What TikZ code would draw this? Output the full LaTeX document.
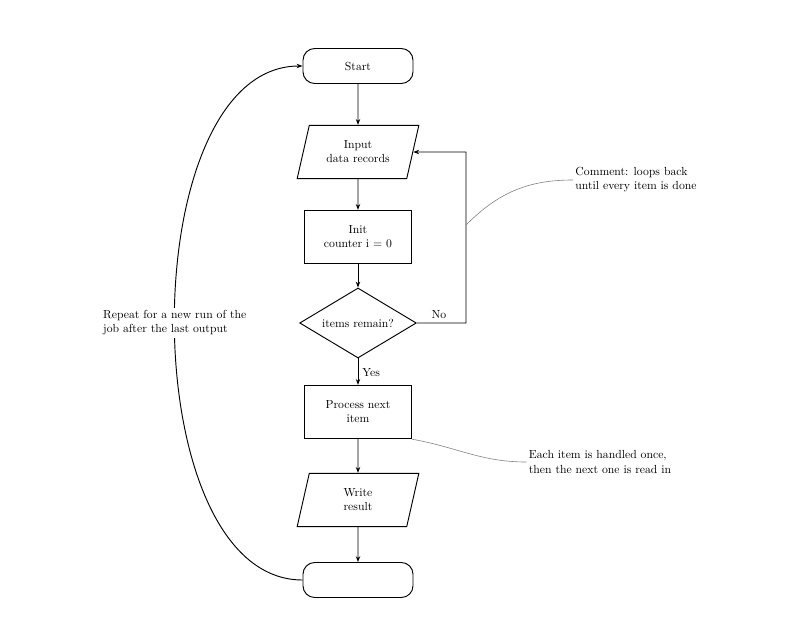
\documentclass[tikz,border=0pt]{standalone}
\usetikzlibrary{shapes.geometric,arrows.meta,positioning}
\begin{document}
\begin{tikzpicture}[x=0.03cm,y=-0.03cm,
  every node/.style={font=\normalsize, align=center},
  term/.style={draw, rounded corners=10pt, minimum width=3.3cm, minimum height=1.05cm, line width=0.8pt, fill=white},
  io/.style={draw, trapezium, trapezium left angle=68, trapezium right angle=112, minimum width=3.65cm, minimum height=1.6cm, line width=0.8pt, trapezium stretches body, fill=white},
  proc/.style={draw, minimum width=3.2cm, minimum height=1.6cm, line width=0.8pt, fill=white},
  deci/.style={draw, diamond, aspect=1.6, minimum width=3.5cm, minimum height=2.1cm, inner sep=0pt, line width=0.8pt, fill=white},
  flow/.style={-{Stealth[length=5pt]}, line width=0.8pt},
  note/.style={font=\normalsize, align=left, fill=white, inner sep=2pt},
  notelink/.style={line width=0.5pt, gray}]
\useasboundingbox (0,0) rectangle (794,639);
\node[term] (start) at (358,66) {Start};
\node[io] (input) at (358,152) {Input\\data records};
\node[proc] (init) at (358,237) {Init\\counter i = 0};
\node[deci] (check) at (358,323) {items remain?};
\node[proc] (work) at (358,412) {Process next\\item};
\node[io] (output) at (358,500) {Write\\result};
\node[term] (stop) at (358,580) {};
\coordinate (loopa) at (466,323);
\coordinate (loopb) at (466,152);
\draw[flow] (start) -- (input);
\draw[flow] (input) -- (init);
\draw[flow] (init) -- (check);
\draw[flow] (check) -- node[right, pos=0.55] {Yes} (work);
\draw[flow] (work) -- (output);
\draw[flow] (output) -- (stop);
\draw[flow] (check.east) -- node[above, pos=0.45] {No} (loopa) -- (loopb) -- (input.east);
\node[note] (n1) at (636,180) {Comment: loops back\\until every item is done};
\node[note] (n2) at (600,462) {Each item is handled once,\\then the next one is read in};
\draw[notelink] (466,225) to[out=45,in=180] (n1.west);
\draw[notelink] (work.south east) to[out=-10,in=180] (n2.west);
\draw[flow] (stop.west) to[out=180,in=180,looseness=0.85] node[note, pos=0.5] (n3) {Repeat for a new run of the\\job after the last output} (start.west);
\end{tikzpicture}
\end{document}
